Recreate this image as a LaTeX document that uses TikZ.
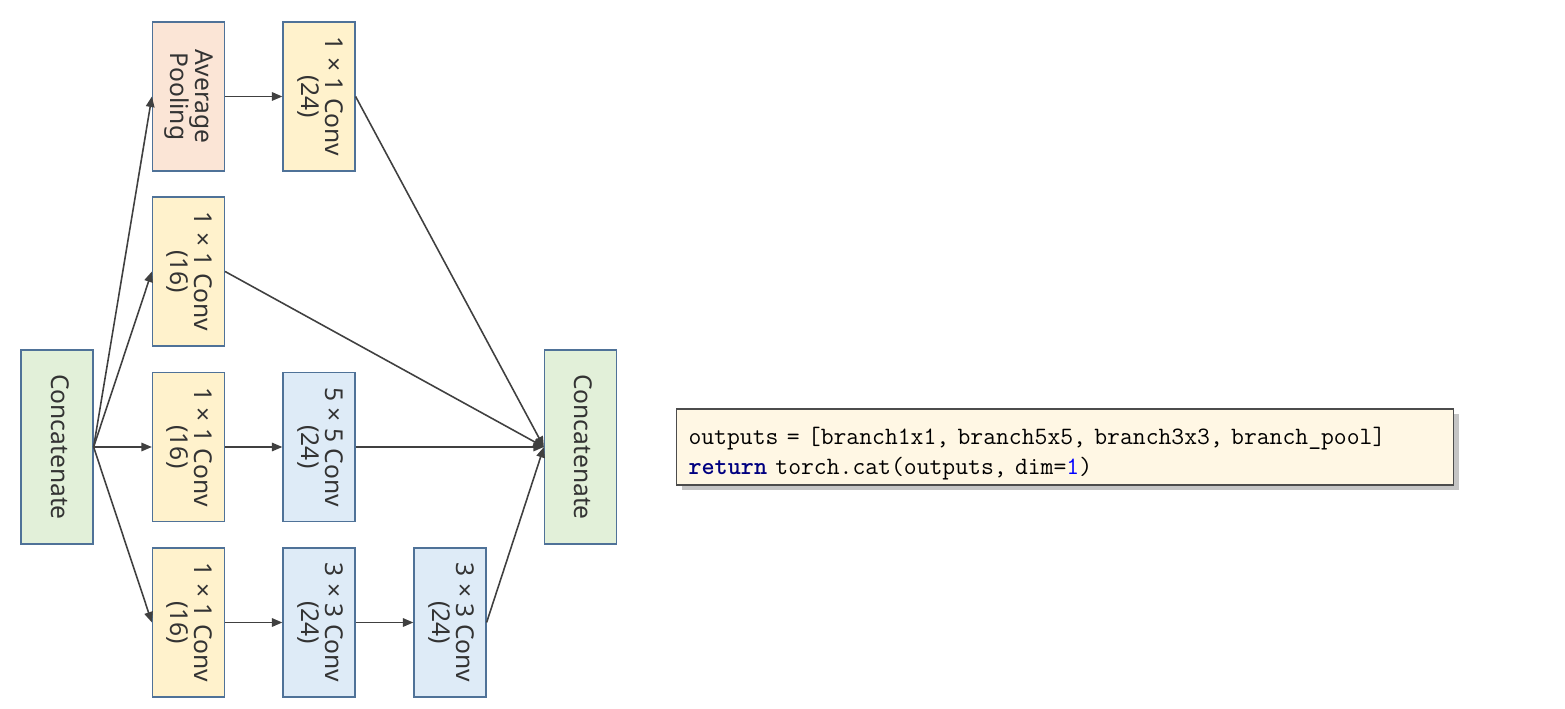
\documentclass[tikz,border=0pt]{standalone}
\usepackage{fontspec}
\setmainfont{Noto Sans}
\usepackage{graphicx}
\usepackage{tikz}
\usetikzlibrary{positioning}
\usetikzlibrary{arrows.meta}
\usetikzlibrary{shadows}
\definecolor{boxline}{HTML}{4F7298}
\definecolor{poolfill}{HTML}{FBE5D6}
\definecolor{convfill}{HTML}{FFF2CC}
\definecolor{deepfill}{HTML}{DEEBF7}
\definecolor{catfill}{HTML}{E2F0D9}
\definecolor{codefill}{HTML}{FFF7E4}
\definecolor{arrowgray}{HTML}{404040}
\definecolor{kwnavy}{HTML}{000080}
\newcommand{\vlabel}[1]{\rotatebox{-90}{\begin{tabular}{@{}c@{}}#1\end{tabular}}}
\tikzset{
	layerbox/.style={draw=boxline, line width=0.7pt, minimum width=1.44cm, minimum height=2.98cm, inner sep=0pt, text=black!80, font=\fontsize{14}{12.2}\selectfont},
	catbox/.style={layerbox, fill=catfill, minimum height=3.88cm},
	flow/.style={draw=arrowgray, line width=0.9pt, -{Triangle[length=2.1mm,width=1.7mm]}}
}

\begin{document}
\begin{tikzpicture}[x=0.02cm, y=-0.02cm]
	\useasboundingbox (0,0) rectangle (1565,709);
	\node [catbox] at (57,447) (0cat) {\vlabel{Concatenate}};
	\node [layerbox, fill=poolfill] at (188.5,96.5) (1pool) {\vlabel{Average\\Pooling}};
	\node [layerbox, fill=convfill] at (319,96.5) (2conv) {\vlabel{\textbf{1} × \textbf{1} Conv\\(24)}};
	\node [layerbox, fill=convfill] at (188.5,271.5) (1reduce) {\vlabel{\textbf{1} × \textbf{1} Conv\\(16)}};
	\node [layerbox, fill=convfill] at (188.5,447) (1five) {\vlabel{\textbf{1} × \textbf{1} Conv\\(16)}};
	\node [layerbox, fill=deepfill] at (319,447) (2five) {\vlabel{\textbf{5} × \textbf{5} Conv\\(24)}};
	\node [layerbox, fill=convfill] at (188.5,622.5) (1three) {\vlabel{\textbf{1} × \textbf{1} Conv\\(16)}};
	\node [layerbox, fill=deepfill] at (319,622.5) (2three) {\vlabel{\textbf{3} × \textbf{3} Conv\\(24)}};
	\node [layerbox, fill=deepfill] at (450,622.5) (3three) {\vlabel{\textbf{3} × \textbf{3} Conv\\(24)}};
	\node [catbox] at (580.5,447) (4cat) {\vlabel{Concatenate}};
	% fan out
	\draw [flow] (0cat.east)--(1pool.west); \draw [flow] (0cat.east)--(1reduce.west);
	\draw [flow] (0cat.east)--(1five.west); \draw [flow] (0cat.east)--(1three.west);
	% branches
	\draw [flow] (1pool)--(2conv); \draw [flow] (1five)--(2five);
	\draw [flow] (1three)--(2three); \draw [flow] (2three)--(3three);
	% fan in
	\draw [flow] (2conv.east)--(4cat.west); \draw [flow] (1reduce.east)--(4cat.west);
	\draw [flow] (2five.east)--(4cat.west); \draw [flow] (3three.east)--(4cat.west);
	\node [draw=black!70, line width=0.6pt, fill=codefill, drop shadow={shadow xshift=3pt, shadow yshift=-3pt, fill=black!45}, anchor=west, text width=15.06cm, inner xsep=0.24cm, inner ysep=0pt, minimum height=1.52cm, align=left, font=\ttfamily\fontsize{14.2}{17}\selectfont] at (676,447) (code) {\rule{0pt}{17pt}outputs = [branch1x1, branch5x5, branch3x3, branch\_pool]\\\textcolor{kwnavy}{\bfseries return} torch.cat(outputs, dim=\textcolor{blue}{1})};
\end{tikzpicture}
\end{document}
